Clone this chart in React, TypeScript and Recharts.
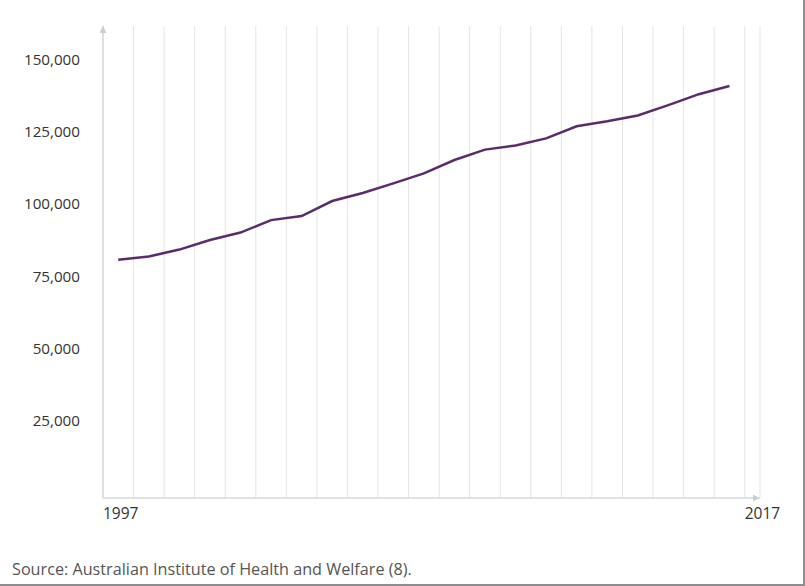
import React from 'react';
import { LineChart, Line, XAxis, YAxis, CartesianGrid } from 'recharts';

const years = [1997, 1998, 1999, 2000, 2001, 2002, 2003, 2004, 2005, 2006, 2007, 2008, 2009, 2010, 2011, 2012, 2013, 2014, 2015, 2016, 2017];
const cases = [80700, 81800, 84200, 87500, 90100, 94400, 95800, 101000, 103800, 107100, 110600, 115200, 118800, 120200, 122700, 126900, 128600, 130600, 134200, 138000, 140800];
const yTicks = [25000, 50000, 75000, 100000, 125000, 150000];
const gridYears = [1996.5, 1997.5, 1998.5, 1999.5, 2000.5, 2001.5, 2002.5, 2003.5, 2004.5, 2005.5, 2006.5, 2007.5, 2008.5, 2009.5, 2010.5, 2011.5, 2012.5, 2013.5, 2014.5, 2015.5, 2016.5, 2017.5];
const xEdgeLabels = ['1997', '2017'];
const sourceText = 'Source: Australian Institute of Health and Welfare (8).';

const data = years.map((y, i) => ({ year: y, value: cases[i] }));

const FONT = '"Open Sans", "Noto Sans", sans-serif';

const XTick = (props: any) => {
  const { x, y, index } = props;
  let label: string | null = null;
  if (index === 0) label = xEdgeLabels[0];
  if (index === gridYears.length - 1) label = xEdgeLabels[1];
  if (!label) return null;
  return (
    <text x={x} y={y} dy="0.71em" textAnchor="start" fill="#333" fontSize={15.5} fontFamily={FONT}>
      {label}
    </text>
  );
};

export default function App() {
  return (
    <div
      style={{
        position: 'absolute',
        left: 0,
        top: 0,
        width: 805,
        height: 586,
        boxSizing: 'border-box',
        borderRight: '2px solid #8e8e8e',
        borderBottom: '2px solid #8e8e8e',
        background: '#fff',
        fontFamily: FONT,
      }}
    >
      <LineChart width={803} height={540} data={data} margin={{ top: 26, right: 43, left: 0, bottom: 0 }}>
        <defs>
          <marker id="axisArrow" viewBox="0 0 10 10" refX="10" refY="5" markerWidth="7" markerHeight="7" markerUnits="userSpaceOnUse" orient="auto-start-reverse">
            <path d="M0,0 L10,5 L0,10 z" fill="#c8ced2" />
          </marker>
        </defs>
        <CartesianGrid horizontal={false} stroke="#e4e4e4" strokeWidth={1} />
        <XAxis
          dataKey="year"
          type="number"
          domain={[1996.5, 2018]}
          ticks={gridYears}
          interval={0}
          height={42}
          tickLine={false}
          tickSize={0}
          tickMargin={10}
          tick={<XTick />}
          axisLine={{ stroke: '#d3d8db', strokeWidth: 1.5, markerEnd: 'url(#axisArrow)' }}
        />
        <YAxis
          type="number"
          domain={[-1800, 161600]}
          ticks={yTicks}
          interval={0}
          width={103}
          tickLine={false}
          tickSize={6}
          tickMargin={17}
          tickFormatter={(v: number) => v.toLocaleString('en-US')}
          tick={{ fill: '#333', fontSize: 15.2, fontFamily: FONT }}
          axisLine={{ stroke: '#d3d8db', strokeWidth: 1.5, markerStart: 'url(#axisArrow)' }}
        />
        <Line
          type="linear"
          dataKey="value"
          stroke="#5b2b6e"
          strokeWidth={2.5}
          dot={false}
          activeDot={false}
          isAnimationActive={false}
        />
      </LineChart>
      <div
        style={{
          position: 'absolute',
          left: 12,
          top: 558,
          fontSize: 16.2,
          color: '#555',
          fontFamily: FONT,
          whiteSpace: 'nowrap',
        }}
      >
        {sourceText}
      </div>
    </div>
  );
}
